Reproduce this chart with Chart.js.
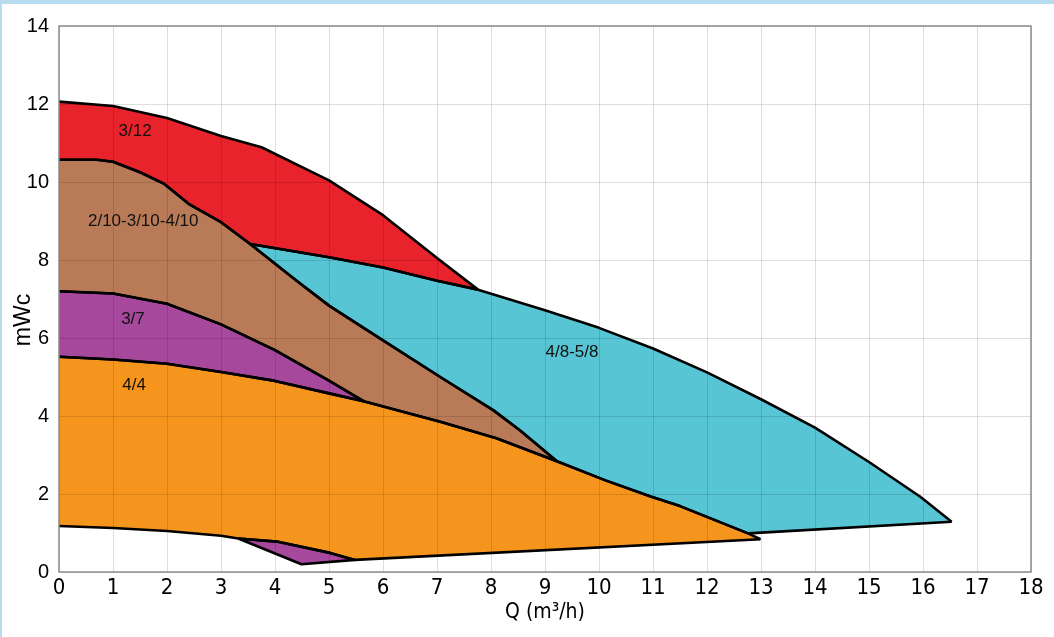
<!DOCTYPE html>
<html>
<head>
<meta charset="utf-8">
<script src="https://cdn.jsdelivr.net/npm/chart.js@4.4.0/dist/chart.umd.min.js"></script>
<style>
    html, body { margin: 0; padding: 0; background: #fff; }
    #frame { width: 1052px; height: 633px; border-top: 4px solid #b7dcef; border-left: 2px solid #b7dcef; }
</style>
</head>
<body>
<div id="frame"><canvas id="pumpChart" width="1052" height="633"></canvas></div>
<script>
// pump curves, [Q m3/h, H mWc]
const curve312 = [[0, 12.06], [1, 11.95], [2, 11.64], [3, 11.18], [3.75, 10.89], [5, 10.04], [6, 9.15], [7, 8.05], [7.76, 7.24]];
const curve210 = [[0, 10.57], [0.7, 10.57], [1, 10.52], [1.5, 10.25], [1.95, 9.95], [2.4, 9.44], [3, 8.97], [3.54, 8.41],
    [4.4, 7.47], [5, 6.83], [6, 5.94], [7.06, 5.0], [8.04, 4.15], [8.54, 3.63], [9.22, 2.84]];
const curve48 = [[3.54, 8.41], [5, 8.07], [6, 7.81], [7, 7.47], [7.76, 7.24], [9, 6.71], [10, 6.26], [11, 5.73],
    [12, 5.12], [13, 4.43], [14, 3.7], [15, 2.82], [15.95, 1.93], [16.53, 1.29]];
const curve37 = [[0, 7.2], [1, 7.14], [2, 6.88], [3, 6.35], [4, 5.69], [5, 4.91], [5.64, 4.38]];
const curve44 = [[0, 5.52], [1, 5.45], [2, 5.34], [3, 5.13], [4, 4.9], [5, 4.58], [5.64, 4.38], [7.06, 3.85], [8.1, 3.43],
    [9.22, 2.84], [10.12, 2.35], [10.97, 1.93], [11.5, 1.69], [12.76, 0.99], [12.99, 0.84]];
const cyanEnd = [[12.76, 0.99], [16.53, 1.29]];
const orangeEnd = [[5.48, 0.31], [12.99, 0.84]];
const curveLow = [[0, 1.18], [1, 1.13], [2, 1.05], [3, 0.93], [3.32, 0.86], [4.03, 0.78], [5.02, 0.49], [5.48, 0.31]];
const purpleTip = [[3.32, 0.86], [4.49, 0.2], [5.48, 0.31]];

const regionLabels = ['3/12', '2/10-3/10-4/10', '4/8-5/8', '3/7', '4/4'];
const labelQ = [1.41, 1.56, 9.5, 1.37, 1.39];
const labelH = [11.29, 8.98, 5.63, 6.48, 4.79];

const colors = {
    red: '#e8232b',
    brown: '#b97b57',
    cyan: '#57c5d4',
    purple: '#a6489c',
    orange: '#f6951e'
};

function seg(c, a, b) {
    return c.filter(p => p[0] >= a - 1e-9 && p[0] <= b + 1e-9);
}

// joins several curves into one list of {x, y}, dropping repeated points
function join(parts) {
    const out = [];
    parts.forEach(curve => curve.forEach(p => {
        const last = out[out.length - 1];
        if (!last || last[0] !== p[0] || last[1] !== p[1]) out.push(p);
    }));
    return out.map(([x, y]) => ({ x, y }));
}

// one coloured region: top boundary filled down to its bottom boundary
function area(top, bottom, fillColor, idx) {
    return [
        { data: join(top), fill: idx + 1, backgroundColor: fillColor },
        { data: join(bottom), fill: false }
    ];
}

const datasets = [
    ...area([curve312], [seg(curve210, 0, 3.54), seg(curve48, 3.54, 7.76)], colors.red, 0),
    ...area([curve210], [curve37, seg(curve44, 5.64, 9.22)], colors.brown, 2),
    ...area([curve48], [seg(curve210, 3.54, 9.22), seg(curve44, 9.22, 12.76), cyanEnd], colors.cyan, 4),
    ...area([curve37], [seg(curve44, 0, 5.64)], colors.purple, 6),
    ...area([curve44], [curveLow, orangeEnd], colors.orange, 8),
    ...area([seg(curveLow, 3.32, 5.48)], [purpleTip], colors.purple, 10)
];

const frameBox = {
    id: 'frameBox',
    afterDraw(chart) {
        const { ctx, chartArea: a } = chart;
        ctx.save();
        ctx.strokeStyle = '#8c8c8c';
        ctx.lineWidth = 1.5;
        ctx.strokeRect(a.left, a.top, a.right - a.left, a.bottom - a.top);
        ctx.restore();
    }
};

const textLayer = {
    id: 'textLayer',
    afterDraw(chart) {
        const { ctx, scales: { x, y } } = chart;
        ctx.save();
        ctx.fillStyle = '#111';
        ctx.textAlign = 'center';
        ctx.textBaseline = 'middle';
        ctx.font = '17px "Liberation Sans", Arial, sans-serif';
        regionLabels.forEach((t, i) => {
            ctx.fillText(t, x.getPixelForValue(labelQ[i]), y.getPixelForValue(labelH[i]));
        });
        // y axis title
        ctx.translate(22, 316);
        ctx.rotate(-Math.PI / 2);
        ctx.font = '23px "Liberation Sans", Arial, sans-serif';
        ctx.fillStyle = '#000';
        ctx.fillText('mWc', 0, 0);
        ctx.restore();
    }
};

new Chart(document.getElementById('pumpChart'), {
    type: 'line',
    data: { datasets },
    options: {
        responsive: false,
        animation: false,
        layout: { padding: { top: 21, right: 23, left: 0, bottom: 0 } },
        plugins: {
            legend: { display: false },
            tooltip: { enabled: false },
            filler: { drawTime: 'beforeDatasetsDraw' }
        },
        elements: {
            point: { radius: 0 },
            line: { borderColor: '#000', borderWidth: 2.6, tension: 0, borderJoinStyle: 'round' }
        },
        scales: {
            x: {
                type: 'linear',
                min: 0,
                max: 18,
                ticks: {
                    stepSize: 1,
                    padding: 3,
                    color: '#000',
                    autoSkip: false,
                    font: { family: '"DejaVu Sans Condensed", sans-serif', size: 22 }
                },
                grid: { color: 'rgba(0,0,0,0.13)', drawTicks: false, z: 1 },
                border: { display: false },
                title: {
                    display: true,
                    text: 'Q (m³/h)',
                    color: '#000',
                    padding: { top: 0, bottom: 12 },
                    font: { family: '"DejaVu Sans Condensed", sans-serif', size: 21 }
                },
                afterFit: s => { s.height = 65; }
            },
            y: {
                min: 0,
                max: 14,
                ticks: {
                    stepSize: 2,
                    padding: 10,
                    color: '#000',
                    font: { family: '"Liberation Sans", Arial, sans-serif', size: 20 }
                },
                grid: { color: 'rgba(0,0,0,0.13)', drawTicks: false, z: 1 },
                border: { display: false },
                afterFit: s => { s.width = 57; }
            }
        }
    },
    plugins: [frameBox, textLayer]
});
</script>
</body>
</html>
